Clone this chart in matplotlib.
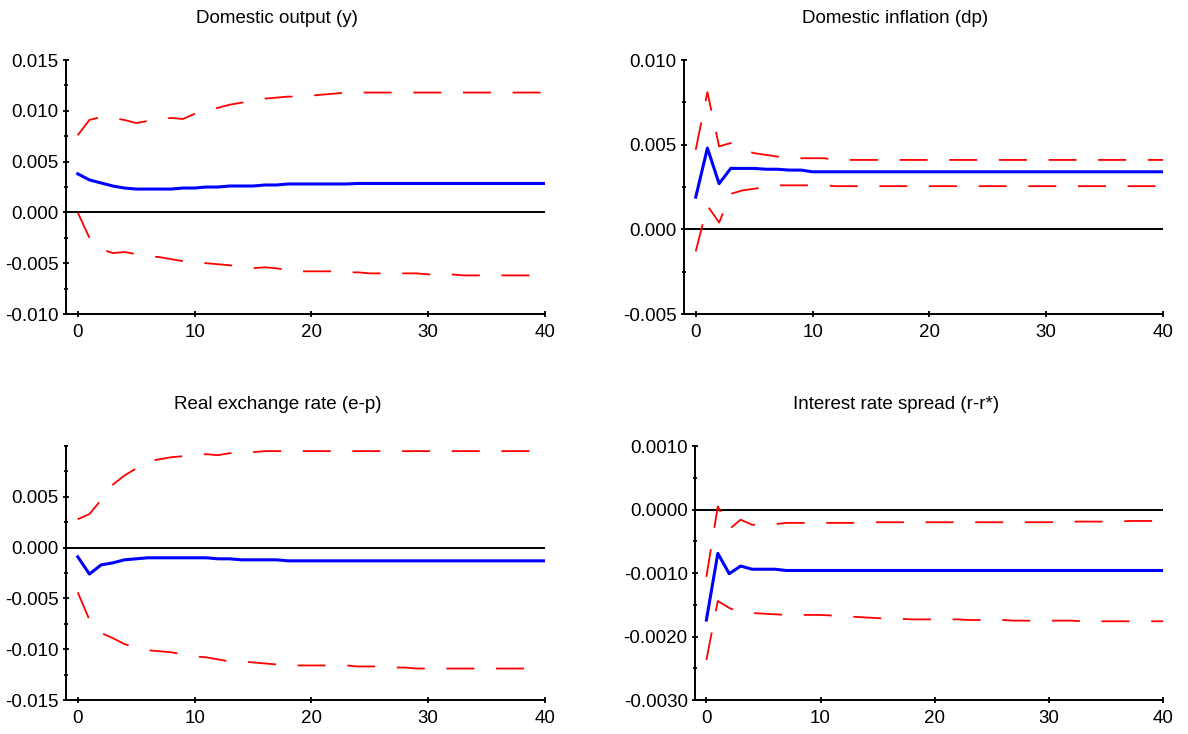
import matplotlib
matplotlib.use("Agg")
import matplotlib.pyplot as plt
from matplotlib.ticker import FormatStrFormatter, MultipleLocator

plt.rcParams['font.family'] = ['Liberation Sans', 'DejaVu Sans']

# horizon
steps = list(range(41))

# Domestic output (y)
y_mid = [0.0038, 0.0032, 0.0029, 0.0026, 0.0024, 0.0023, 0.0023, 0.0023, 0.0023, 0.0024,
         0.0024, 0.0025, 0.0025, 0.0026, 0.0026, 0.0026, 0.0027, 0.0027, 0.0028, 0.0028,
         0.0028, 0.0028, 0.0028, 0.0028, 0.00285, 0.00285, 0.00285, 0.00285, 0.00285, 0.00285,
         0.00285, 0.00285, 0.00285, 0.00285, 0.00285, 0.00285, 0.00285, 0.00285, 0.00285, 0.00285,
         0.00285]
y_hi = [0.0076, 0.0091, 0.0094, 0.0093, 0.0091, 0.0088, 0.0090, 0.0092, 0.0093, 0.0092,
        0.0097, 0.0100, 0.0103, 0.0106, 0.0108, 0.0110, 0.0112, 0.0113, 0.0114, 0.0114,
        0.0115, 0.0116, 0.0117, 0.0118, 0.0118, 0.0118, 0.0118, 0.0118, 0.0118, 0.0118,
        0.0118, 0.0118, 0.0118, 0.0118, 0.0118, 0.0118, 0.0118, 0.0118, 0.0118, 0.0118,
        0.0118]
y_lo = [0.0000, -0.0025, -0.0036, -0.0040, -0.0039, -0.0041, -0.0043, -0.0044, -0.0046, -0.0048,
        -0.0049, -0.0050, -0.0051, -0.0052, -0.0054, -0.0055, -0.0054, -0.0055, -0.0057, -0.0058,
        -0.0058, -0.0058, -0.0058, -0.0059, -0.0059, -0.0060, -0.0060, -0.0060, -0.0060, -0.0060,
        -0.0061, -0.0061, -0.0061, -0.0062, -0.0062, -0.0062, -0.0062, -0.0062, -0.0062, -0.0062,
        -0.0062]

# Domestic inflation (dp)
dp_mid = [0.0019, 0.0048, 0.0027, 0.0036, 0.0036, 0.0036, 0.00355, 0.00355, 0.0035, 0.0035,
          0.0034, 0.0034, 0.0034, 0.0034, 0.0034, 0.0034, 0.0034, 0.0034, 0.0034, 0.0034,
          0.0034, 0.0034, 0.0034, 0.0034, 0.0034, 0.0034, 0.0034, 0.0034, 0.0034, 0.0034,
          0.0034, 0.0034, 0.0034, 0.0034, 0.0034, 0.0034, 0.0034, 0.0034, 0.0034, 0.0034,
          0.0034]
dp_hi = [0.0047, 0.0081, 0.0049, 0.0051, 0.0047, 0.0045, 0.0044, 0.0043, 0.0042, 0.0042,
         0.0042, 0.0042, 0.0041, 0.0041, 0.0041, 0.0041, 0.0041, 0.0041, 0.0041, 0.0041,
         0.0041, 0.0041, 0.0041, 0.0041, 0.0041, 0.0041, 0.0041, 0.0041, 0.0041, 0.0041,
         0.0041, 0.0041, 0.0041, 0.0041, 0.0041, 0.0041, 0.0041, 0.0041, 0.0041, 0.0041,
         0.0041]
dp_lo = [-0.0013, 0.0014, 0.0004, 0.0021, 0.0023, 0.0024, 0.0025, 0.0026, 0.0026, 0.0026,
         0.0026, 0.0026, 0.00255, 0.00255, 0.00255, 0.00255, 0.00255, 0.00255, 0.00255, 0.00255,
         0.00255, 0.00255, 0.00255, 0.00255, 0.00255, 0.00255, 0.00255, 0.00255, 0.00255, 0.00255,
         0.00255, 0.00255, 0.00255, 0.00255, 0.00255, 0.00255, 0.00255, 0.00255, 0.00255, 0.00255,
         0.00255]

# Real exchange rate (e-p)
ep_mid = [-0.0009, -0.0026, -0.0017, -0.0015, -0.0012, -0.0011, -0.0010, -0.0010, -0.0010, -0.0010,
          -0.0010, -0.0010, -0.0011, -0.0011, -0.0012, -0.0012, -0.0012, -0.0012, -0.0013, -0.0013,
          -0.0013, -0.0013, -0.0013, -0.0013, -0.0013, -0.0013, -0.0013, -0.0013, -0.0013, -0.0013,
          -0.0013, -0.0013, -0.0013, -0.0013, -0.0013, -0.0013, -0.0013, -0.0013, -0.0013, -0.0013,
          -0.0013]
ep_hi = [0.0028, 0.0033, 0.0047, 0.0062, 0.0071, 0.0078, 0.0085, 0.0087, 0.0089, 0.0090,
         0.0091, 0.0092, 0.0091, 0.0093, 0.0093, 0.0094, 0.0095, 0.0095, 0.0095, 0.0095,
         0.0095, 0.0095, 0.0095, 0.0095, 0.0095, 0.0095, 0.0095, 0.0095, 0.0095, 0.0095,
         0.0095, 0.0095, 0.0095, 0.0095, 0.0095, 0.0095, 0.0095, 0.0095, 0.0095, 0.0095,
         0.0095]
ep_lo = [-0.0044, -0.0071, -0.0084, -0.0089, -0.0095, -0.0098, -0.0101, -0.0102, -0.0103, -0.0105,
         -0.0107, -0.0108, -0.0110, -0.0112, -0.0112, -0.0113, -0.0114, -0.0115, -0.0116, -0.0116,
         -0.0116, -0.0116, -0.0116, -0.0116, -0.0117, -0.0117, -0.0117, -0.0118, -0.0118, -0.0119,
         -0.0119, -0.0119, -0.0119, -0.0119, -0.0119, -0.0119, -0.0119, -0.0119, -0.0119, -0.0119,
         -0.0119]

# Interest rate spread (r-r*)
rr_mid = [-0.00174, -0.00069, -0.00101, -0.00089, -0.00094, -0.00094, -0.00094, -0.00096, -0.00096, -0.00096,
          -0.00096, -0.00096, -0.00096, -0.00096, -0.00096, -0.00096, -0.00096, -0.00096, -0.00096, -0.00096,
          -0.00096, -0.00096, -0.00096, -0.00096, -0.00096, -0.00096, -0.00096, -0.00096, -0.00096, -0.00096,
          -0.00096, -0.00096, -0.00096, -0.00096, -0.00096, -0.00096, -0.00096, -0.00096, -0.00096, -0.00096,
          -0.00096]
rr_hi = [-0.00106, 0.00005, -0.00031, -0.00016, -0.00024, -0.00024, -0.00023, -0.00021, -0.00021, -0.00021,
         -0.00021, -0.00021, -0.00021, -0.00021, -0.00020, -0.00020, -0.00020, -0.00020, -0.00020, -0.00020,
         -0.00020, -0.00020, -0.00020, -0.00020, -0.00020, -0.00020, -0.00020, -0.00020, -0.00020, -0.00020,
         -0.00020, -0.00019, -0.00019, -0.00019, -0.00019, -0.00019, -0.00019, -0.00018, -0.00018, -0.00018,
         -0.00018]
rr_lo = [-0.00237, -0.00144, -0.00155, -0.00162, -0.00163, -0.00164, -0.00165, -0.00166, -0.00166, -0.00166,
         -0.00166, -0.00167, -0.00168, -0.00169, -0.00170, -0.00171, -0.00172, -0.00172, -0.00173, -0.00173,
         -0.00173, -0.00173, -0.00173, -0.00174, -0.00174, -0.00174, -0.00174, -0.00175, -0.00175, -0.00175,
         -0.00175, -0.00175, -0.00175, -0.00176, -0.00176, -0.00176, -0.00176, -0.00176, -0.00176, -0.00176,
         -0.00176]

titles = ["Domestic output (y)", "Domestic inflation (dp)",
          "Real exchange rate (e-p)", "Interest rate spread (r-r*)"]

fig = plt.figure(figsize=(11.88, 7.34), dpi=100)


def panel(rect, mid, hi, lo, ylim, majors, minor_step, fmt):
    ax = fig.add_axes(rect)
    ax.axhline(0, color="black", lw=1.4, zorder=1)
    ax.plot(steps, hi, color="red", lw=1.3, linestyle=(0, (15.5, 12)), zorder=2)
    ax.plot(steps, lo, color="red", lw=1.3, linestyle=(0, (15.5, 12)), zorder=2)
    ax.plot(steps, mid, color="blue", lw=2.2, zorder=3)
    ax.set_xlim(-1, 40)
    ax.set_ylim(*ylim)
    ax.set_xticks([0, 10, 20, 30, 40])
    ax.set_yticks(majors)
    ax.yaxis.set_minor_locator(MultipleLocator(minor_step))
    ax.yaxis.set_major_formatter(FormatStrFormatter(fmt))
    for s in ["top", "right"]:
        ax.spines[s].set_visible(False)
    for s in ["left", "bottom"]:
        ax.spines[s].set_linewidth(1.4)
    ax.tick_params(which="major", direction="inout", length=4.5, width=1.3,
                   labelsize=13.5, pad=3)
    ax.tick_params(axis="x", which="major", pad=5)
    ax.tick_params(which="minor", direction="inout", length=3, width=1.3)
    ax.tick_params(axis="x", which="minor", length=0)
    return ax


panel([0.0556, 0.5722, 0.4032, 0.3460], y_mid, y_hi, y_lo, (-0.010, 0.015),
      [-0.010, -0.005, 0.0, 0.005, 0.010, 0.015], 0.0025, "%.3f")
panel([0.5758, 0.5722, 0.4032, 0.3460], dp_mid, dp_hi, dp_lo, (-0.005, 0.010),
      [-0.005, 0.0, 0.005, 0.010], 0.0025, "%.3f")
panel([0.0556, 0.0463, 0.4032, 0.3460], ep_mid, ep_hi, ep_lo, (-0.015, 0.010),
      [-0.015, -0.010, -0.005, 0.0, 0.005], 0.0025, "%.3f")
panel([0.5850, 0.0463, 0.3940, 0.3460], rr_mid, rr_hi, rr_lo, (-0.0030, 0.0010),
      [-0.0030, -0.0020, -0.0010, 0.0, 0.0010], 0.0005, "%.4f")

title_pos = [(0.2335, 0.975), (0.7535, 0.975), (0.2335, 0.449), (0.7540, 0.449)]
for t, (x, y) in zip(titles, title_pos):
    fig.text(x, y, t, ha="center", va="center", fontsize=13.5)

fig.savefig("out.png", dpi=100)
